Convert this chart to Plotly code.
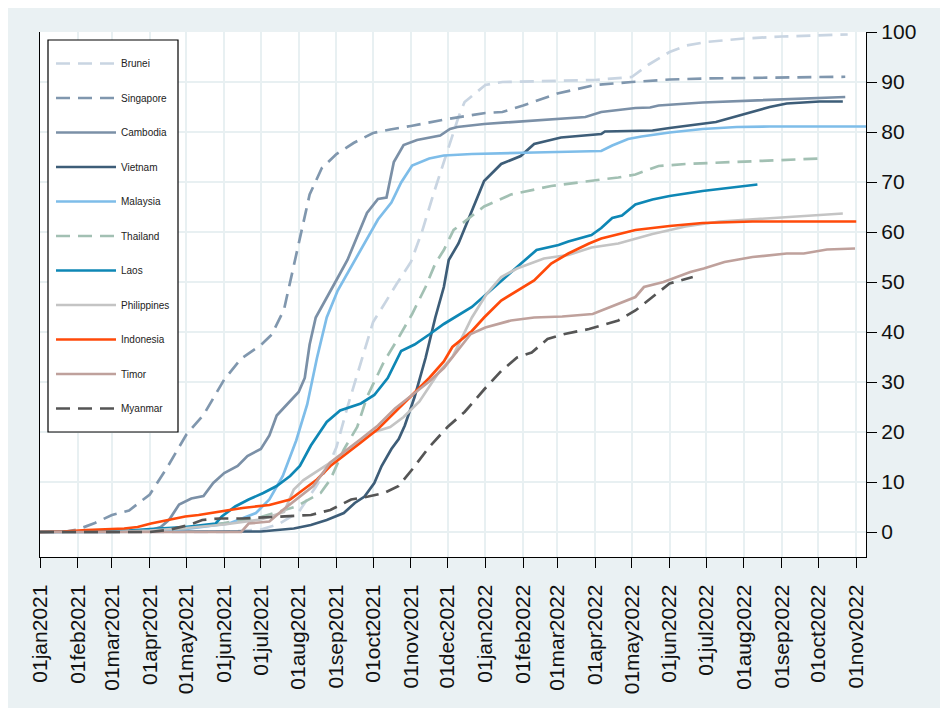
import plotly.graph_objects as go

tick_dates = ["2021-01-01", "2021-02-01", "2021-03-01", "2021-04-01", "2021-05-01", "2021-06-01",
              "2021-07-01", "2021-08-01", "2021-09-01", "2021-10-01", "2021-11-01", "2021-12-01",
              "2022-01-01", "2022-02-01", "2022-03-01", "2022-04-01", "2022-05-01", "2022-06-01",
              "2022-07-01", "2022-08-01", "2022-09-01", "2022-10-01", "2022-11-01"]
tick_labels = ["01jan2021", "01feb2021", "01mar2021", "01apr2021", "01may2021", "01jun2021",
               "01jul2021", "01aug2021", "01sep2021", "01oct2021", "01nov2021", "01dec2021",
               "01jan2022", "01feb2022", "01mar2022", "01apr2022", "01may2022", "01jun2022",
               "01jul2022", "01aug2022", "01sep2022", "01oct2022", "01nov2022"]
y_ticks = [0, 10, 20, 30, 40, 50, 60, 70, 80, 90, 100]

brunei_dates = ["2021-01-01", "2021-06-01", "2021-07-01", "2021-07-15", "2021-08-01", "2021-08-15", "2021-08-25",
                "2021-09-01", "2021-09-10", "2021-09-20", "2021-10-01", "2021-10-10", "2021-10-20", "2021-11-01",
                "2021-11-10", "2021-11-20", "2021-12-01", "2021-12-10", "2021-12-15", "2022-01-01", "2022-01-15",
                "2022-03-01", "2022-04-01", "2022-05-01", "2022-05-15", "2022-06-01", "2022-06-15", "2022-07-01",
                "2022-08-01", "2022-09-01", "2022-10-01", "2022-10-25"]
brunei_vals = [0, 0, 0.5, 1.5, 4, 9, 13, 17, 25, 33, 42, 45.5, 49.5, 54, 60, 68, 76.5, 83, 86, 89.4, 90,
               90.2, 90.4, 91, 93.5, 96, 97.3, 98, 98.7, 99.1, 99.3, 99.5]

singapore_dates = ["2021-01-01", "2021-01-20", "2021-02-01", "2021-02-15", "2021-03-01", "2021-03-15", "2021-04-01",
                   "2021-04-15", "2021-05-01", "2021-05-15", "2021-06-01", "2021-06-15", "2021-07-01", "2021-07-10",
                   "2021-07-20", "2021-08-01", "2021-08-10", "2021-08-20", "2021-09-01", "2021-09-15", "2021-10-01",
                   "2021-10-15", "2021-11-01", "2021-12-01", "2022-01-01", "2022-01-15", "2022-02-01", "2022-03-01",
                   "2022-04-01", "2022-05-01", "2022-06-01", "2022-07-01", "2022-08-01", "2022-09-01", "2022-10-01",
                   "2022-10-23"]
singapore_vals = [0, 0, 0.5, 1.8, 3.4, 4.3, 7.5, 12.8, 19.5, 23.4, 30.5, 34.7, 37.4, 39.5, 44.5, 57.4, 67.5, 72.8,
                  75.6, 77.8, 79.8, 80.5, 81.2, 82.6, 83.8, 84, 85.3, 87.7, 89.4, 90.0, 90.5, 90.7, 90.85, 90.9,
                  91.0, 91.05]

cambodia_dates = ["2021-01-01", "2021-04-01", "2021-04-10", "2021-04-17", "2021-04-25", "2021-05-05", "2021-05-15",
                  "2021-05-23", "2021-06-01", "2021-06-12", "2021-06-20", "2021-07-01", "2021-07-08", "2021-07-14",
                  "2021-07-22", "2021-08-01", "2021-08-06", "2021-08-10", "2021-08-15", "2021-08-24", "2021-09-01",
                  "2021-09-10", "2021-09-18", "2021-09-26", "2021-10-05", "2021-10-12", "2021-10-18", "2021-10-26",
                  "2021-11-06", "2021-11-25", "2021-12-03", "2021-12-09", "2021-12-31", "2022-02-10", "2022-03-24",
                  "2022-04-06", "2022-05-04", "2022-05-16", "2022-05-23", "2022-06-28", "2022-08-08", "2022-09-19",
                  "2022-10-23"]
cambodia_vals = [0, 0.3, 1, 2.5, 5.5, 6.7, 7.2, 9.8, 11.8, 13.2, 15.2, 16.6, 19.3, 23.3, 25.4, 28, 30.8, 37.5, 42.9,
                 47, 50.4, 54.4, 59.1, 63.8, 66.6, 66.9, 74, 77.4, 78.4, 79.3, 80.6, 81, 81.6, 82.3, 83, 84, 84.8,
                 84.9, 85.3, 85.9, 86.3, 86.8, 87]

vietnam_dates = ["2021-01-01", "2021-06-01", "2021-07-01", "2021-07-28", "2021-08-11", "2021-08-24", "2021-09-07",
                 "2021-09-16", "2021-09-24", "2021-10-02", "2021-10-08", "2021-10-16", "2021-10-22", "2021-10-27",
                 "2021-11-04", "2021-11-13", "2021-11-21", "2021-11-28", "2021-12-02", "2021-12-10", "2021-12-20",
                 "2021-12-31", "2022-01-14", "2022-01-30", "2022-02-10", "2022-02-21", "2022-03-04", "2022-04-06",
                 "2022-04-09", "2022-05-18", "2022-06-01", "2022-07-09", "2022-08-08", "2022-08-22", "2022-09-05",
                 "2022-10-02", "2022-10-21"]
vietnam_vals = [0, 0, 0.1, 0.7, 1.4, 2.4, 3.8, 5.8, 7.1, 9.8, 13.2, 16.6, 18.6, 21.3, 27, 34.8, 42.9, 49, 54.4, 57.7,
                63.8, 70.2, 73.6, 75.2, 77.6, 78.3, 78.9, 79.6, 80.1, 80.3, 80.8, 82, 84, 85, 85.7, 86.1, 86.1]

malaysia_dates = ["2021-01-01", "2021-03-01", "2021-04-01", "2021-05-01", "2021-06-05", "2021-06-27", "2021-07-08",
                  "2021-07-19", "2021-07-30", "2021-08-08", "2021-08-16", "2021-08-24", "2021-09-02", "2021-09-13",
                  "2021-09-24", "2021-10-05", "2021-10-16", "2021-10-24", "2021-11-02", "2021-11-16", "2021-11-28",
                  "2021-12-21", "2022-02-10", "2022-04-06", "2022-04-15", "2022-04-28", "2022-05-09", "2022-06-01",
                  "2022-06-28", "2022-07-26", "2022-08-22", "2022-11-10"]
malaysia_vals = [0, 0, 0.2, 0.6, 1.7, 3.8, 6.5, 11.2, 18.3, 25.5, 34.8, 42.9, 48.3, 53, 57.8, 62.5, 65.9, 69.9, 73.3,
                 74.7, 75.3, 75.6, 75.9, 76.2, 77.3, 78.6, 79.1, 79.9, 80.6, 81, 81.1, 81.1]

thailand_dates = ["2021-01-01", "2021-03-01", "2021-04-01", "2021-05-01", "2021-06-01", "2021-07-01", "2021-07-30",
                  "2021-08-19", "2021-08-27", "2021-09-07", "2021-09-18", "2021-09-26", "2021-10-10", "2021-10-22",
                  "2021-11-02", "2021-11-13", "2021-11-21", "2021-11-28", "2021-12-06", "2021-12-31", "2022-01-22",
                  "2022-02-24", "2022-04-06", "2022-04-20", "2022-05-04", "2022-05-23", "2022-06-14", "2022-07-26",
                  "2022-08-22", "2022-10-02"]
thailand_vals = [0, 0, 0.2, 0.8, 1.8, 3, 5.1, 7.8, 10.5, 16.5, 21, 27, 34.1, 38.9, 43.6, 49, 53.7, 56.4, 60.4, 65.1,
                 67.5, 69.2, 70.5, 70.9, 71.5, 73.2, 73.6, 74, 74.4, 74.7]

laos_dates = ["2021-01-01", "2021-02-15", "2021-03-15", "2021-04-01", "2021-04-30", "2021-05-25", "2021-05-30",
              "2021-06-10", "2021-06-21", "2021-07-03", "2021-07-14", "2021-07-25", "2021-08-02", "2021-08-11",
              "2021-08-24", "2021-09-04", "2021-09-21", "2021-10-02", "2021-10-13", "2021-10-24", "2021-11-04",
              "2021-11-16", "2021-11-28", "2021-12-21", "2022-01-14", "2022-01-27", "2022-02-12", "2022-03-02",
              "2022-03-10", "2022-03-29", "2022-04-06", "2022-04-15", "2022-04-23", "2022-05-04", "2022-05-18",
              "2022-06-01", "2022-06-28", "2022-07-26", "2022-08-12"]
laos_vals = [0, 0.1, 0.3, 0.6, 1, 1.7, 3.1, 5.1, 6.5, 7.8, 9.2, 11.2, 13.2, 17.3, 22, 24.3, 25.7, 27.4, 30.8, 36.2,
             37.5, 39.5, 41.6, 45, 50.3, 53, 56.4, 57.4, 58.1, 59.4, 60.8, 62.8, 63.3, 65.5, 66.5, 67.2, 68.2, 69,
             69.5]

philippines_dates = ["2021-01-01", "2021-03-01", "2021-04-01", "2021-05-01", "2021-06-01", "2021-07-01", "2021-07-20",
                     "2021-07-28", "2021-08-05", "2021-08-26", "2021-09-28", "2021-10-15", "2021-10-26", "2021-11-08",
                     "2021-11-24", "2021-12-05", "2021-12-21", "2022-01-02", "2022-01-14", "2022-01-27", "2022-02-18",
                     "2022-03-10", "2022-03-29", "2022-04-20", "2022-05-18", "2022-06-14", "2022-07-12", "2022-08-22",
                     "2022-09-19", "2022-10-21"]
philippines_vals = [0, 0, 0.3, 0.8, 1.5, 2.5, 4, 8.5, 10.4, 13.7, 19.7, 21, 23, 26.1, 32, 35, 42.9, 47.6, 51, 52.7,
                    54.7, 55.4, 56.9, 57.7, 59.6, 61.1, 62.1, 62.8, 63.3, 63.7]

indonesia_dates = ["2021-01-01", "2021-01-20", "2021-02-08", "2021-03-11", "2021-03-22", "2021-04-02", "2021-04-16",
                   "2021-04-30", "2021-05-11", "2021-05-28", "2021-06-16", "2021-07-08", "2021-07-25", "2021-08-05",
                   "2021-08-16", "2021-08-27", "2021-09-07", "2021-09-21", "2021-10-05", "2021-10-19", "2021-11-02",
                   "2021-11-16", "2021-11-28", "2021-12-05", "2021-12-21", "2021-12-31", "2022-01-14", "2022-01-27",
                   "2022-02-10", "2022-02-24", "2022-03-10", "2022-03-27", "2022-04-06", "2022-05-04", "2022-06-01",
                   "2022-06-28", "2022-08-08", "2022-11-01"]
indonesia_vals = [0, 0.1, 0.4, 0.7, 1, 1.7, 2.4, 3.1, 3.4, 4.1, 4.8, 5.4, 6.5, 8.5, 10.5, 13.2, 15.2, 17.9, 20.6, 24,
                  27.4, 30.8, 34.1, 37, 40.2, 42.9, 46.3, 48.3, 50.3, 53.7, 55.7, 57.7, 58.7, 60.4, 61.2, 61.8, 62.1,
                  62.1]

timor_dates = ["2021-01-01", "2021-06-15", "2021-06-21", "2021-07-08", "2021-07-19", "2021-08-02", "2021-08-13",
               "2021-08-27", "2021-09-07", "2021-09-21", "2021-10-05", "2021-10-19", "2021-11-02", "2021-11-16",
               "2021-11-28", "2021-12-05", "2021-12-20", "2022-01-01", "2022-01-22", "2022-02-10", "2022-03-05",
               "2022-03-30", "2022-04-13", "2022-05-04", "2022-05-11", "2022-05-27", "2022-06-18", "2022-06-29",
               "2022-07-16", "2022-08-08", "2022-09-05", "2022-09-19", "2022-10-08", "2022-10-31"]
timor_vals = [0, 0, 1.7, 2.1, 4.4, 7.1, 9.2, 13.9, 15.9, 18.6, 21.3, 24.7, 27.4, 30.1, 32.8, 35, 39.6, 40.9, 42.3,
              42.9, 43.1, 43.6, 45, 47, 49, 50, 52, 52.7, 54, 55, 55.7, 55.7, 56.5, 56.7]

myanmar_dates = ["2021-01-01", "2021-04-01", "2021-04-16", "2021-05-03", "2021-05-14", "2021-05-28", "2021-06-16",
                 "2021-07-14", "2021-08-11", "2021-08-27", "2021-09-13", "2021-09-27", "2021-10-10", "2021-10-22",
                 "2021-11-02", "2021-11-16", "2021-12-01", "2021-12-15", "2021-12-31", "2022-01-14", "2022-01-27",
                 "2022-02-08", "2022-02-21", "2022-03-07", "2022-03-27", "2022-04-06", "2022-04-20", "2022-05-04",
                 "2022-05-18", "2022-06-01", "2022-06-20"]
myanmar_vals = [0, 0, 0.4, 1.4, 2.4, 2.7, 2.7, 3.1, 3.4, 4.4, 6.5, 7.1, 7.8, 9.2, 12.5, 17, 21, 24, 28.5, 32.2, 34.9,
                35.9, 38.6, 39.6, 40.6, 41.3, 42.3, 44.3, 47, 49.7, 51]

series = [
    ("Brunei", brunei_dates, brunei_vals, "#C9D5E2", "14px,8px"),
    ("Singapore", singapore_dates, singapore_vals, "#8097AE", "14px,8px"),
    ("Cambodia", cambodia_dates, cambodia_vals, "#7B90A7", "solid"),
    ("Vietnam", vietnam_dates, vietnam_vals, "#3D5D78", "solid"),
    ("Malaysia", malaysia_dates, malaysia_vals, "#7EBDE9", "solid"),
    ("Thailand", thailand_dates, thailand_vals, "#A2C0B3", "14px,8px"),
    ("Laos", laos_dates, laos_vals, "#0E87B5", "solid"),
    ("Philippines", philippines_dates, philippines_vals, "#C4C4C4", "solid"),
    ("Indonesia", indonesia_dates, indonesia_vals, "#FF4A0A", "solid"),
    ("Timor", timor_dates, timor_vals, "#BFA19C", "solid"),
    ("Myanmar", myanmar_dates, myanmar_vals, "#555555", "14px,8px"),
]

fig = go.Figure()
for name, d, v, color, dash in series:
    fig.add_trace(go.Scatter(x=d, y=v, mode="lines", name=name, legendgroup=name,
                             line=dict(color=color, width=2.7, dash=dash)))

BG = "#EAF1F3"
GRID = "#E8F0F2"
W, H = 932, 700
L, R, T, B = 32, 74, 24, 151
pw, ph = W - L - R, H - T - B


def fx(px):
    return (px - L) / pw


def fy(py):
    return (H - B - py) / ph


# legend frame (figure pixel coords)
fig.add_shape(type="rect", xref="paper", yref="paper", layer="above",
              x0=fx(40), x1=fx(170), y0=fy(424), y1=fy(32),
              fillcolor="white", line=dict(color="black", width=1.2))

fig.update_layout(
    template="none",
    width=W, height=H,
    margin=dict(l=L, r=R, t=T, b=B, autoexpand=False),
    paper_bgcolor=BG,
    plot_bgcolor="white",
    font=dict(family="Liberation Sans, Arial, sans-serif", color="#111111"),
    showlegend=True,
    legend=dict(
        x=fx(43), y=fy(41), xanchor="left", yanchor="top",
        bgcolor="rgba(0,0,0,0)", borderwidth=0,
        font=dict(size=10, color="#222222"),
        tracegroupgap=15.5, itemwidth=60,
    ),
    xaxis=dict(
        type="date", automargin=False,
        range=["2021-01-01", "2022-11-09"],
        tickmode="array", tickvals=tick_dates, ticktext=tick_labels,
        tickangle=-90, tickfont=dict(size=21),
        ticks="outside", ticklen=10, tickcolor="black", tickwidth=1.3,
        showline=True, linecolor="black", linewidth=1.3,
        showgrid=True, gridcolor=GRID, gridwidth=1.6,
        zeroline=False, ticklabelstandoff=8,
    ),
    yaxis=dict(
        side="right", range=[-5, 100], automargin=False,
        tickmode="array", tickvals=y_ticks,
        tickfont=dict(size=21),
        ticks="outside", ticklen=10, tickcolor="black", tickwidth=1.3,
        showline=True, linecolor="black", linewidth=1.3, mirror=True,
        showgrid=True, gridcolor=GRID, gridwidth=1.6,
        zeroline=False,
    ),
)

fig.write_html("out.html")
